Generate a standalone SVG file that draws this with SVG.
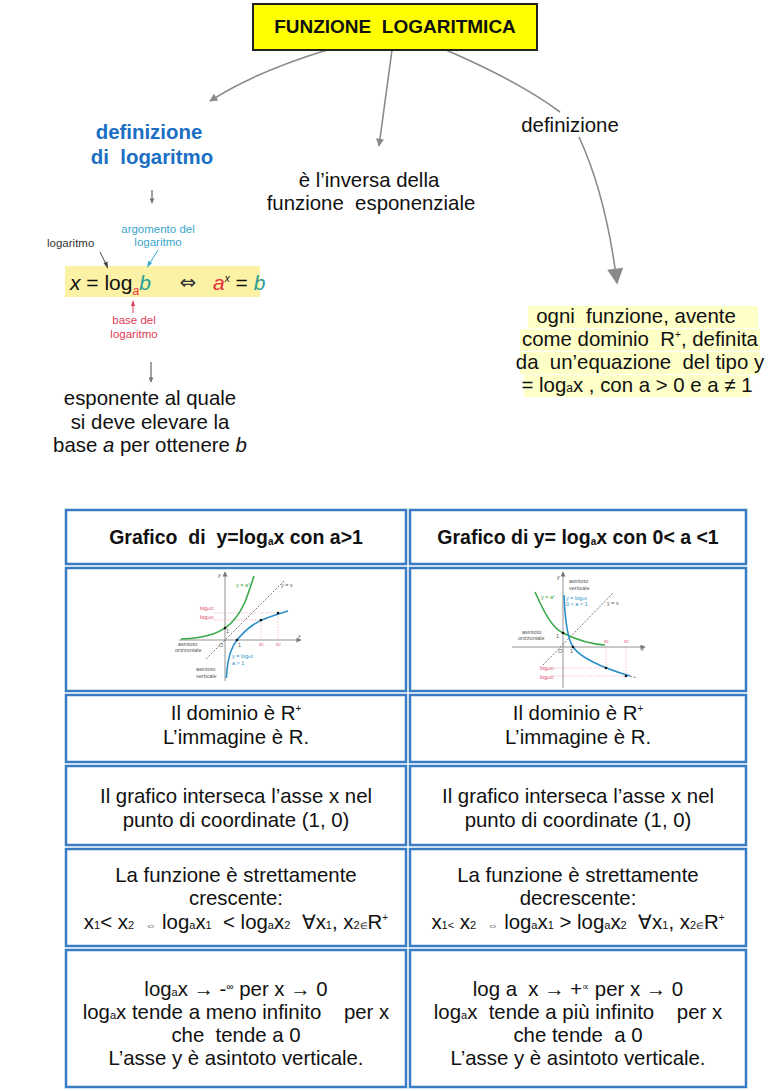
<svg xmlns="http://www.w3.org/2000/svg" width="768" height="1091" viewBox="0 0 768 1091">
<style>
text{font-family:"Liberation Sans",Arial,sans-serif;fill:#111;white-space:pre;}
.t{font-size:20.4px;text-anchor:middle;}
.hb{font-size:19.5px;font-weight:bold;text-anchor:middle;}
.cell{fill:#fff;stroke:#3a7cc4;stroke-width:2.5;}
.con{fill:none;stroke:#8a8a8a;stroke-width:1.6;}
.gt{font-size:5.5px;fill:#555;}
.gr{font-size:5.5px;fill:#d94a6a;}
.gg{font-size:5.5px;fill:#3aa84a;}
.gb{font-size:5.5px;fill:#2a8fc8;}
.ax{stroke:#777;stroke-width:0.8;fill:none;}
.dsh{stroke:#555;stroke-width:0.8;stroke-dasharray:2,1.5;fill:none;}
.pk{stroke:#e89aaa;stroke-width:0.6;stroke-dasharray:1.5,1.2;fill:none;}
.hl{fill:#ffffc8;}
</style>
<defs>
<marker id="ah" viewBox="0 0 10 10" refX="9" refY="5" markerWidth="10" markerHeight="8" markerUnits="userSpaceOnUse" orient="auto"><path d="M0,0 L10,5 L0,10 z" fill="#8a8a8a"/></marker>
<marker id="ahb" viewBox="0 0 10 10" refX="9" refY="5" markerWidth="22" markerHeight="16" markerUnits="userSpaceOnUse" orient="auto"><path d="M0,0 L10,5 L0,10 z" fill="#8a8a8a"/></marker>
<marker id="ahs" viewBox="0 0 10 10" refX="9" refY="5" markerWidth="6" markerHeight="5" markerUnits="userSpaceOnUse" orient="auto"><path d="M0,0 L10,5 L0,10 z" fill="#777"/></marker>
</defs>

<g id="connectors">
<path class="con" d="M327,50 Q255,72 210,101" marker-end="url(#ah)"/>
<path class="con" d="M392,50 L379,146" marker-end="url(#ah)"/>
<path class="con" d="M446,50 Q520,82 560,112" stroke-width="2.6"/>
<path class="con" d="M579,137 Q606,195 617,283" stroke-width="3" marker-end="url(#ahb)"/>
<path class="con" d="M152,190 L152,203" stroke-width="1.2" marker-end="url(#ahs)"/>
<path class="con" d="M151,362 L151,382" stroke-width="1.2" marker-end="url(#ahs)"/>
</g>

<g id="title">
<rect x="253" y="4" width="284" height="46" fill="#ffff00" stroke="#222" stroke-width="2"/>
<text x="395" y="33" text-anchor="middle" font-size="19" font-weight="bold">FUNZIONE  LOGARITMICA</text>
</g>

<g id="defLog">
<text x="149" y="139" class="t" font-weight="bold" font-size="19" style="fill:#1a6fc4">definizione</text>
<text x="152" y="164" class="t" font-weight="bold" font-size="19" style="fill:#1a6fc4">di  logaritmo</text>
</g>

<g id="formula">
<rect x="65" y="266" width="195" height="31" fill="#fbf2a6"/>
<text x="47" y="247" font-size="11.5" style="fill:#333">logaritmo</text>
<text x="158" y="233" font-size="11.5" text-anchor="middle" style="fill:#3aa6cc">argomento del</text>
<text x="158" y="246" font-size="11.5" text-anchor="middle" style="fill:#3aa6cc">logaritmo</text>
<text x="134" y="324" font-size="11.5" text-anchor="middle" style="fill:#e03c55">base del</text>
<text x="134" y="338" font-size="11.5" text-anchor="middle" style="fill:#e03c55">logaritmo</text>
<path d="M100,252 L106,264" stroke="#444" stroke-width="1" fill="none"/>
<path d="M108,269 L103.5,263 L107.5,261.5 z" fill="#444"/>
<path d="M158,250 L150,263" stroke="#3aa6cc" stroke-width="1" fill="none"/>
<path d="M147,268 L148.2,260.8 L152,263 z" fill="#3aa6cc"/>
<path d="M133,313 L133,305" stroke="#e03c55" stroke-width="1" fill="none"/>
<path d="M133,300 L131,306 L135,306 z" fill="#e03c55"/>
<text x="70" y="290" font-size="21"><tspan font-style="italic">x</tspan> = log<tspan font-size="12" dy="5" font-style="italic" style="fill:#e8303a">a</tspan><tspan dy="-5" font-style="italic" style="fill:#2a9d96">b</tspan></text>
<text x="188" y="289" font-size="20" text-anchor="middle" style="font-family:'DejaVu Sans',sans-serif;fill:#333">⇔</text>
<text x="213" y="290" font-size="21"><tspan font-style="italic" style="fill:#e8303a">a</tspan><tspan font-size="10" dy="-8" font-style="italic">x</tspan><tspan dy="8"> = </tspan><tspan font-style="italic" style="fill:#2a9d96">b</tspan></text>
</g>

<g id="esponente">
<text x="150" y="405" class="t">esponente al quale</text>
<text x="150" y="429" class="t">si deve elevare la</text>
<text x="150" y="452" class="t">base <tspan font-style="italic">a</tspan> per ottenere <tspan font-style="italic">b</tspan></text>
</g>

<g id="inversa">
<text x="369" y="187" class="t">è l’inversa della</text>
<text x="371" y="210" class="t">funzione  esponenziale</text>
</g>

<g id="defLabel">
<text x="570" y="132" class="t">definizione</text>
</g>

<g id="ogni">
<rect class="hl" x="528" y="306" width="230" height="22"/>
<rect class="hl" x="520" y="329" width="240" height="22"/>
<rect class="hl" x="520" y="352" width="240" height="22"/>
<rect class="hl" x="524" y="375" width="226" height="22"/>
<text x="636" y="323" class="t">ogni  funzione, avente</text>
<text x="640" y="346" class="t">come dominio  R<tspan font-size="10" dy="-8">+</tspan><tspan dy="8">, definita</tspan></text>
<text x="640" y="369" class="t">da  un’equazione  del tipo y</text>
<text x="637" y="392" class="t">= log<tspan font-size="12">a</tspan>x , con a &gt; 0 e a ≠ 1</text>
</g>

<g id="table">
<rect class="cell" x="66" y="510" width="340" height="54"/>
<rect class="cell" x="410" y="510" width="336" height="54"/>
<rect class="cell" x="66" y="568" width="340" height="123"/>
<rect class="cell" x="410" y="568" width="336" height="123"/>
<rect class="cell" x="66" y="695" width="340" height="67"/>
<rect class="cell" x="410" y="695" width="336" height="67"/>
<rect class="cell" x="66" y="766" width="340" height="79"/>
<rect class="cell" x="410" y="766" width="336" height="79"/>
<rect class="cell" x="66" y="849" width="340" height="97"/>
<rect class="cell" x="410" y="849" width="336" height="97"/>
<rect class="cell" x="66" y="950" width="340" height="137"/>
<rect class="cell" x="410" y="950" width="336" height="137"/>
</g>

<g id="header">
<text x="236" y="544" class="hb">Grafico  di  y=log<tspan font-size="10" dy="1">a</tspan><tspan dy="-1">x con a&gt;1</tspan></text>
<text x="578" y="544" class="hb">Grafico di y= log<tspan font-size="10" dy="1">a</tspan><tspan dy="-1">x con 0&lt; a &lt;1</tspan></text>
</g>

<g id="graphLeft">
<path class="ax" d="M179,640 L301,640" marker-end="url(#ahs)"/>
<path class="ax" d="M225,681 L225,572" marker-end="url(#ahs)"/>
<path class="dsh" d="M206,659 L284,581"/>
<path class="pk" d="M261,620 L261,640 M278,613 L278,640 M214,620 L261,620 M214,613 L278,613"/>
<path d="M181,639 C195,638.5 205,636.5 213,634 C220,631.5 222,630 225,628 C233,623 240,613 245,602 C249,592 251,585 254,576" fill="none" stroke="#3aa84a" stroke-width="1.6"/>
<path d="M226.3,678 C227,668 229,656 231,651 C233,646 234.5,643 237,640 C242,634 247,629 253,625 C262,619 272,616 288,611" fill="none" stroke="#2a8fc8" stroke-width="1.6"/>
<circle cx="225" cy="628" r="1.3" fill="#111"/>
<circle cx="237" cy="640" r="1.3" fill="#111"/>
<circle cx="261" cy="620" r="1.3" fill="#111"/>
<circle cx="278" cy="613" r="1.3" fill="#111"/>
<text x="218" y="577" class="gt" font-style="italic">y</text>
<text x="298" y="638" class="gt" font-style="italic">x</text>
<text x="236" y="587" class="gg">y = a<tspan font-size="3.5" dy="-2">x</tspan></text>
<text x="281" y="587" class="gt">y = x</text>
<text x="200" y="610" class="gr">log<tspan font-size="3.5">a</tspan>x<tspan font-size="3.5">2</tspan></text>
<text x="200" y="619" class="gr">log<tspan font-size="3.5">a</tspan>x<tspan font-size="3.5">1</tspan></text>
<text x="226" y="633" class="gt">1</text>
<text x="219" y="647" class="gt" font-style="italic">O</text>
<text x="238" y="647" class="gt">1</text>
<text x="259" y="646" class="gr">x<tspan font-size="3.5">1</tspan></text>
<text x="276" y="646" class="gr">x<tspan font-size="3.5">2</tspan></text>
<text x="178" y="646" class="gt">asintoto</text>
<text x="175" y="652" class="gt">orizzontale</text>
<text x="232" y="658" class="gb">y = log<tspan font-size="3.5">a</tspan>x</text>
<text x="232" y="665" class="gb">a &gt; 1</text>
<text x="196" y="671" class="gt">asintoto</text>
<text x="196" y="678" class="gt">verticale</text>
</g>

<g id="graphRight">
<path class="ax" d="M512,647 L645,647" marker-end="url(#ahs)"/>
<path class="ax" d="M563,688 L563,572" marker-end="url(#ahs)"/>
<path class="dsh" d="M543,665 L613,593"/>
<path class="pk" d="M606,668 L606,647 M626,676 L626,647 M550,668 L606,668 M550,676 L626,676"/>
<path d="M535,592 C544,612 552,628 563,633 C575,639 588,644 605,645" fill="none" stroke="#3aa84a" stroke-width="1.6"/>
<path d="M564,595 C565,620 567,638 573,647 C580,657 600,667 630,676" fill="none" stroke="#2a8fc8" stroke-width="1.6"/>
<path d="M630,676 L637,678" class="dsh" stroke="#2a8fc8"/>
<circle cx="563" cy="633" r="1.3" fill="#111"/>
<circle cx="573" cy="647" r="1.3" fill="#111"/>
<circle cx="606" cy="668" r="1.3" fill="#111"/>
<circle cx="626" cy="676" r="1.3" fill="#111"/>
<text x="557" y="579" class="gt" font-style="italic">y</text>
<text x="641" y="651" class="gt" font-style="italic">x</text>
<text x="569" y="583" class="gt">asintoto</text>
<text x="569" y="590" class="gt">verticale</text>
<text x="566" y="600" class="gb">y = log<tspan font-size="3.5">a</tspan>x</text>
<text x="566" y="606" class="gb">0 &lt; a &lt; 1</text>
<text x="541" y="599" class="gg">y = a<tspan font-size="3.5" dy="-2">x</tspan></text>
<text x="607" y="605" class="gt">y = x</text>
<text x="522" y="634" class="gt">asintoto</text>
<text x="518" y="640" class="gt">orizzontale</text>
<text x="556" y="638" class="gt">1</text>
<text x="558" y="653" class="gt" font-style="italic">O</text>
<text x="570" y="653" class="gt">1</text>
<text x="604" y="643" class="gr">x<tspan font-size="3.5">1</tspan></text>
<text x="624" y="643" class="gr">x<tspan font-size="3.5">2</tspan></text>
<text x="540" y="670" class="gr">log<tspan font-size="3.5">a</tspan>x<tspan font-size="3.5">1</tspan></text>
<text x="540" y="679" class="gr">log<tspan font-size="3.5">a</tspan>x<tspan font-size="3.5">2</tspan></text>
</g>

<g id="dominio">
<text x="236" y="720" class="t">Il dominio è R<tspan font-size="10" dy="-8">+</tspan></text>
<text x="236" y="744" class="t">L’immagine è R.</text>
<text x="578" y="720" class="t">Il dominio è R<tspan font-size="10" dy="-8">+</tspan></text>
<text x="578" y="744" class="t">L’immagine è R.</text>
</g>

<g id="intersezione">
<text x="236" y="803" class="t">Il grafico interseca l’asse x nel</text>
<text x="236" y="827" class="t">punto di coordinate (1, 0)</text>
<text x="578" y="803" class="t">Il grafico interseca l’asse x nel</text>
<text x="578" y="827" class="t">punto di coordinate (1, 0)</text>
</g>

<g id="monotonia">
<text x="236" y="882" class="t">La funzione è strettamente</text>
<text x="236" y="905" class="t">crescente:</text>
<text x="236" y="929" class="t">x<tspan font-size="11">1</tspan>&lt; x<tspan font-size="11">2</tspan>  <tspan font-size="11">⇔</tspan> log<tspan font-size="11">a</tspan>x<tspan font-size="11">1</tspan>  &lt; log<tspan font-size="11">a</tspan>x<tspan font-size="11">2</tspan>  ∀x<tspan font-size="11">1</tspan>, x<tspan font-size="11">2</tspan><tspan font-size="9">∈</tspan>R<tspan font-size="10" dy="-8">+</tspan></text>
<text x="578" y="882" class="t">La funzione è strettamente</text>
<text x="578" y="905" class="t">decrescente:</text>
<text x="578" y="929" class="t">x<tspan font-size="11">1&lt;</tspan> x<tspan font-size="11">2</tspan>  <tspan font-size="11">⇔</tspan> log<tspan font-size="11">a</tspan>x<tspan font-size="11">1</tspan> &gt; log<tspan font-size="11">a</tspan>x<tspan font-size="11">2</tspan>  ∀x<tspan font-size="11">1</tspan>, x<tspan font-size="11">2</tspan><tspan font-size="9">∈</tspan>R<tspan font-size="10" dy="-8">+</tspan></text>
</g>

<g id="limiti">
<text x="236" y="996" class="t">log<tspan font-size="11">a</tspan>x → -<tspan font-size="10" dy="-6">∞</tspan><tspan dy="6"> per x → 0</tspan></text>
<text x="236" y="1019" class="t">log<tspan font-size="11">a</tspan>x tende a meno infinito    per x</text>
<text x="236" y="1042" class="t">che  tende a 0</text>
<text x="236" y="1065" class="t">L’asse y è asintoto verticale.</text>
<text x="578" y="996" class="t">log a  x → +<tspan font-size="10" dy="-6">∝</tspan><tspan dy="6"> per x → 0</tspan></text>
<text x="578" y="1019" class="t">log<tspan font-size="11">a</tspan>x  tende a più infinito    per x</text>
<text x="578" y="1042" class="t">che tende  a 0</text>
<text x="578" y="1065" class="t">L’asse y è asintoto verticale.</text>
</g>
</svg>
